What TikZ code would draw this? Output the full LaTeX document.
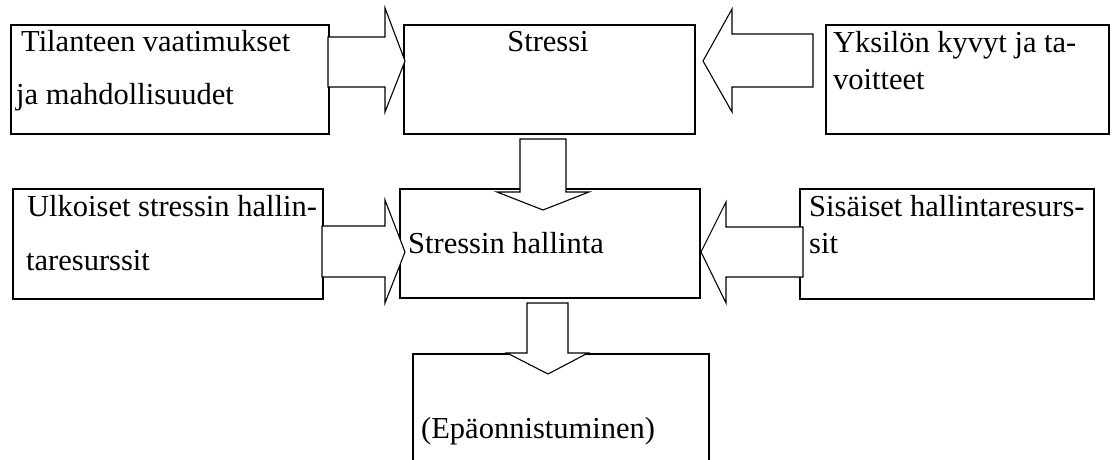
\documentclass[tikz,border=0pt]{standalone}
\usepackage{fontspec}
\setmainfont{Liberation Serif}
\begin{document}
\begin{tikzpicture}[x=1pt,y=-1pt,
  box/.style={draw=black,line width=1.8pt,fill=white,inner sep=0pt,anchor=north west},
  blockarrow/.style={draw=black,line width=1.1pt,fill=white,line join=miter},
  lbl/.style={inner sep=0pt,anchor=base west,font=\fontsize{30.5}{36}\selectfont}]
\clip (0,0) rectangle (1112,460);
\fill[white] (0,0) rectangle (1112,460);
% boxes
\node[box,minimum width=318pt,minimum height=109pt] (b1) at (10,24) {};
\node[box,minimum width=291pt,minimum height=109pt] (b2) at (403,24) {};
\node[box,minimum width=283pt,minimum height=109pt] (b3) at (825,24) {};
\node[box,minimum width=310pt,minimum height=110pt] (b4) at (12,188) {};
\node[box,minimum width=300pt,minimum height=109pt] (b5) at (399,188) {};
\node[box,minimum width=294pt,minimum height=110pt] (b6) at (799,188) {};
\node[box,minimum width=296pt,minimum height=130pt] (b7) at (412,353) {};
% block arrows
\draw[blockarrow] (328,37) -- (385,37) -- (385,8) -- (405,61) -- (385,112) -- (385,87) -- (328,87) -- cycle;
\draw[blockarrow] (813,34) -- (732,34) -- (732,9) -- (703,61) -- (732,112) -- (732,87) -- (813,87) -- cycle;
\draw[blockarrow] (520,139) -- (566,139) -- (566,192) -- (589,192) -- (543,210) -- (497,192) -- (520,192) -- cycle;
\draw[blockarrow] (322,226) -- (385,226) -- (385,200) -- (405,252) -- (385,303) -- (385,277) -- (322,277) -- cycle;
\draw[blockarrow] (803,227) -- (726,227) -- (726,202) -- (701,252) -- (726,303) -- (726,277) -- (803,277) -- cycle;
\draw[blockarrow] (527,303) -- (568,303) -- (568,353) -- (588,353) -- (548,374) -- (507,353) -- (527,353) -- cycle;
% texts
\node[lbl] (t1a) at (21,52) {Tilanteen vaatimukset};
\node[lbl] (t1b) at (16,105) {ja mahdollisuudet};
\node[lbl,anchor=base] (t2) at (548,52) {Stressi};
\node[lbl] (t3a) at (833,53) {Yksilön kyvyt ja ta-};
\node[lbl] (t3b) at (833,89) {voitteet};
\node[lbl] (t4a) at (27,216) {Ulkoiset stressin hallin-};
\node[lbl] (t4b) at (26,270) {taresurssit};
\node[lbl] (t5) at (408,253) {Stressin hallinta};
\node[lbl] (t6a) at (809,216) {Sisäiset hallintaresurs-};
\node[lbl] (t6b) at (809,253) {sit};
\node[lbl] (t7) at (421,438) {(Epäonnistuminen)};
\end{tikzpicture}
\end{document}
